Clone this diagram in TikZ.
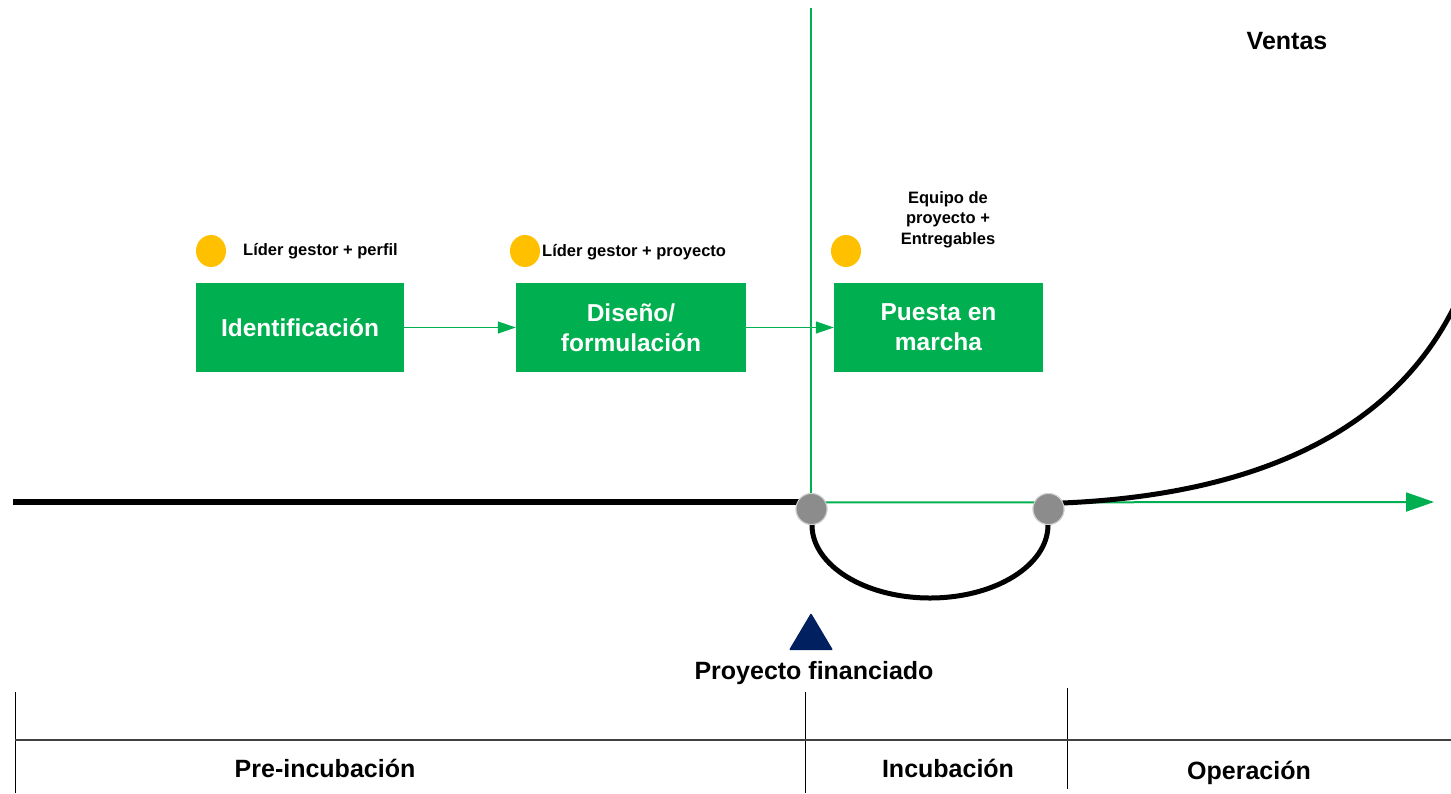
\documentclass[tikz,border=0pt]{standalone}
\usepackage{fontspec}
\setmainfont{Liberation Sans}
\usetikzlibrary{arrows.meta,shapes.geometric}
\definecolor{pgreen}{HTML}{00B050}
\definecolor{pyellow}{HTML}{FFC000}
\definecolor{pnavy}{HTML}{002060}
\definecolor{pgray}{HTML}{8C8C8C}
\tikzset{
  phase/.style={fill=pgreen, draw=none, minimum width=#1, minimum height=89pt, inner sep=0pt, align=center, text=white, font=\fontsize{24.5}{30}\selectfont\bfseries},
  dot/.style={fill=pyellow, draw=none, ellipse, minimum width=30pt, minimum height=32pt, inner sep=0pt},
  gdot/.style={circle, fill=pgray, draw=black!18, line width=1pt, minimum size=31pt, inner sep=0pt},
  small/.style={font=\fontsize{16.5}{20.5}\selectfont\bfseries, align=center, inner sep=0pt},
  big/.style={font=\fontsize{25}{30}\selectfont\bfseries, inner sep=0pt},
  garrow/.style={draw=pgreen, line width=1.2pt, -{Triangle[length=18pt,width=12pt]}},
  thick line/.style={line width=5.5pt, draw=black},
}
\begin{document}
\begin{tikzpicture}[x=1pt,y=-1pt]
\useasboundingbox (0,0) rectangle (1451,793);
\clip (0,0) rectangle (1451,793);
\fill[white] (0,0) rectangle (1451,793);
% coordinates
\coordinate (L0) at (13,502);
\coordinate (Vtop) at (811,8);
\coordinate (Aend) at (1434,502);
\coordinate (Cend) at (1462,290);
% circles (positions)
\node[gdot] (g1) at (811.5,509) {};
\node[gdot] (g2) at (1048.5,509) {};
\draw[pgreen, line width=2pt] (Vtop) -- (811,502);
\draw[thick line] (L0) -- (g1.center |- L0);
\draw[pgreen, line width=2pt, -{Triangle[length=28pt,width=19pt]}] (811,502.5) -- (Aend);
% lower arc
\draw[thick line, line width=5pt] (g1.south) ++(0.5,0) arc[start angle=180, end angle=0, x radius=118, y radius=73];
% growth curve
\draw[thick line, line width=5pt] (g2.east) ++(-2,-6) .. controls (1250,495) and (1400,435) .. (Cend);
\node[gdot] at (g1) {};
\node[gdot] at (g2) {};
% boxes
\node[phase=208pt] (b1) at (300,327.5) {Identificación};
\node[phase=230pt] (b2) at (631,327.5) {Diseño/\\formulación};
\node[phase=209pt] (b3) at (938.5,327.5) {Puesta en\\marcha};
\draw[garrow] (b1.east) -- (b2.west);
\draw[garrow] (b2.east) -- (b3.west);
% yellow dots
\node[dot] (d1) at (211,251) {};
\node[dot] (d2) at (525,251) {};
\node[dot] (d3) at (846,251) {};
\node[small, anchor=west] (t1) at (243,251) {Líder gestor + perfil};
\node[small, anchor=west] (t2) at (542,252) {Líder gestor + proyecto};
\node[small] (t3) at (948,219.5) {Equipo de\\proyecto +\\Entregables};
\node[big] (ventas) at (1287,41) {Ventas};
% triangle
\fill[pnavy, rounded corners=1pt] (811,613) -- (833,650) -- (789,650) -- cycle;
\node[big] (pf) at (814,673) {Proyecto financiado};
% bottom table
\draw[black, line width=0.8pt] (15,692) -- (15,793);
\draw[black, line width=0.8pt] (805,692) -- (805,793);
\draw[black, line width=0.8pt] (1067,688) -- (1067,789);
\draw[black!75, line width=2pt] (15,740) -- (1451,740);
\node[big] (pre) at (325,768) {Pre-incubación};
\node[big] (inc) at (948,768) {Incubación};
\node[big] (ope) at (1249,773) {Operación};
\end{tikzpicture}
\end{document}
